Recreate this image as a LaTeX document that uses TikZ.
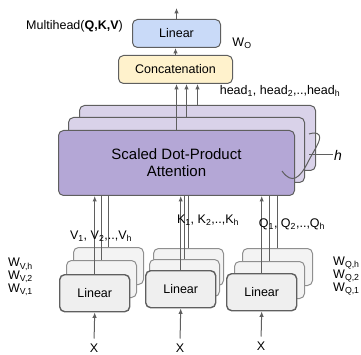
\documentclass[tikz,border=0pt]{standalone}
\usepackage{fontspec}
\setmainfont{Liberation Sans}
\usetikzlibrary{arrows.meta}

\definecolor{linblue}{HTML}{C9DAF8}
\definecolor{catyellow}{HTML}{FFF2CC}
\definecolor{attfront}{HTML}{B4A7D6}
\definecolor{attback}{HTML}{D9D2E9}
\definecolor{lingray}{HTML}{EFEFEF}
\definecolor{linback}{HTML}{F3F3F3}
\definecolor{edgegray}{HTML}{5F5F5F}
\definecolor{lightedge}{HTML}{8F8F8F}

\begin{document}
\begin{tikzpicture}[x=1pt,y=-1pt,
  box/.style={draw=edgegray,line width=1pt,rounded corners=5pt,anchor=north west,inner sep=0pt,font=\fontsize{12.5}{14}\selectfont},
  attbox/.style={box,minimum width=236pt,minimum height=65pt},
  linbox/.style={box,fill=lingray,line width=1.4pt,minimum width=70pt,minimum height=37pt},
  linbehind/.style={box,fill=linback,draw=lightedge,minimum width=70pt,minimum height=37pt},
  lbl/.style={font=\fontsize{12.5}{13}\selectfont,inner sep=1pt},
  arr/.style={draw=edgegray,line width=1pt,-{Latex[length=5.5pt,width=4.5pt]}},
  ln/.style={draw=edgegray,line width=1pt}]
\useasboundingbox (0,0) rectangle (361,355);

% attention heads
\node[attbox,fill=attback] (att3) at (79,105) {};
\node[attbox,fill=attback] (att2) at (68,117) {};
\node[attbox,fill=attfront,align=center,font=\fontsize{15}{17}\selectfont] (att1) at (58,130) {Scaled Dot-Product\\Attention};

% output part
\node[box,fill=catyellow,minimum width=114pt,minimum height=28pt] (concat) at (118,55) {Concatenation};
\node[box,fill=linblue,minimum width=88pt,minimum height=28pt] (lin) at (132,19) {Linear};
\coordinate (out) at (176,8);
\draw[arr] (concat.north) -- (concat.north |- lin.south);
\draw[arr] (lin.north) -- (lin.north |- out);
\draw[arr] (att1.north) -- (att1.north |- concat.south);
\draw[arr] (att2.north) -- (att2.north |- concat.south);
\draw[arr] (att3.north) -- (att3.north |- concat.south);

\node[lbl,anchor=east] (mhead) at (124,26) {Multihead(\textbf{Q,K,V})};
\node[lbl] (wo) at (242,43) {W\textsubscript{O}};
\node[lbl] (heads) at (280,91) {head\textsubscript{1}, head\textsubscript{2},..,head\textsubscript{h}};

% h brace
\coordinate (brtip) at (309,155);
\node[lbl,anchor=west,font=\fontsize{14}{14}\itshape] (hlab) at (333,155) {h};
\draw[ln] (282,171) .. controls (292,185) and (300,178) .. (308,162) .. controls (314,150) and (322,140) .. (319,135) .. controls (317,132) and (312,133) .. (309,134);
\draw[ln] (brtip) -- (hlab.west);

% linear projections
\node[linbehind] (vlin3) at (73,247) {};
\node[linbehind] (vlin2) at (66,260) {};
\node[linbox] (vlin1) at (59,274) {Linear};
\node[linbehind] (klin3) at (153,248) {};
\node[linbehind] (klin2) at (149,259) {};
\node[linbox] (klin1) at (145,270) {Linear};
\node[linbehind] (qlin3) at (242,248) {};
\node[linbehind] (qlin2) at (234,261) {};
\node[linbox] (qlin1) at (226,273) {Linear};

\draw[arr] (vlin1.north) -- (vlin1.north |- att1.south);
\draw[ln] (vlin2.north) -- (vlin2.north |- att1.south);
\draw[ln] (vlin3.north) -- (vlin3.north |- att1.south);
\draw[arr] (klin1.north) -- (klin1.north |- att1.south);
\draw[ln] (klin2.north) -- (klin2.north |- att1.south);
\draw[ln] (klin3.north) -- (klin3.north |- att1.south);
\draw[arr] (qlin1.north) -- (qlin1.north |- att1.south);
\draw[ln] (qlin2.north) -- (qlin2.north |- att1.south);
\draw[ln] (qlin3.north) -- (qlin3.north |- att1.south);

\node[lbl] (vlab) at (101,236) {V\textsubscript{1}, V\textsubscript{2},..,V\textsubscript{h}};
\node[lbl] (klab) at (208,220) {K\textsubscript{1}, K\textsubscript{2},..,K\textsubscript{h}};
\node[lbl] (qlab) at (292,224) {Q\textsubscript{1}, Q\textsubscript{2},..,Q\textsubscript{h}};

\node[lbl,anchor=west,align=left] (wv) at (7,277) {W\textsubscript{V,h}\\W\textsubscript{V,2}\\W\textsubscript{V,1}};
\node[lbl,anchor=west,align=left] (wq) at (332,276) {W\textsubscript{Q,h}\\W\textsubscript{Q,2}\\W\textsubscript{Q,1}};

% inputs
\node[lbl] (vx) at (94,348) {X};
\node[lbl] (kx) at (180,348) {X};
\node[lbl] (qx) at (261,346) {X};
\draw[arr,shorten <=4pt] (vx.north) -- (vlin1.south);
\draw[arr,shorten <=4pt] (kx.north) -- (klin1.south);
\draw[arr,shorten <=4pt] (qx.north) -- (qlin1.south);

\end{tikzpicture}
\end{document}
